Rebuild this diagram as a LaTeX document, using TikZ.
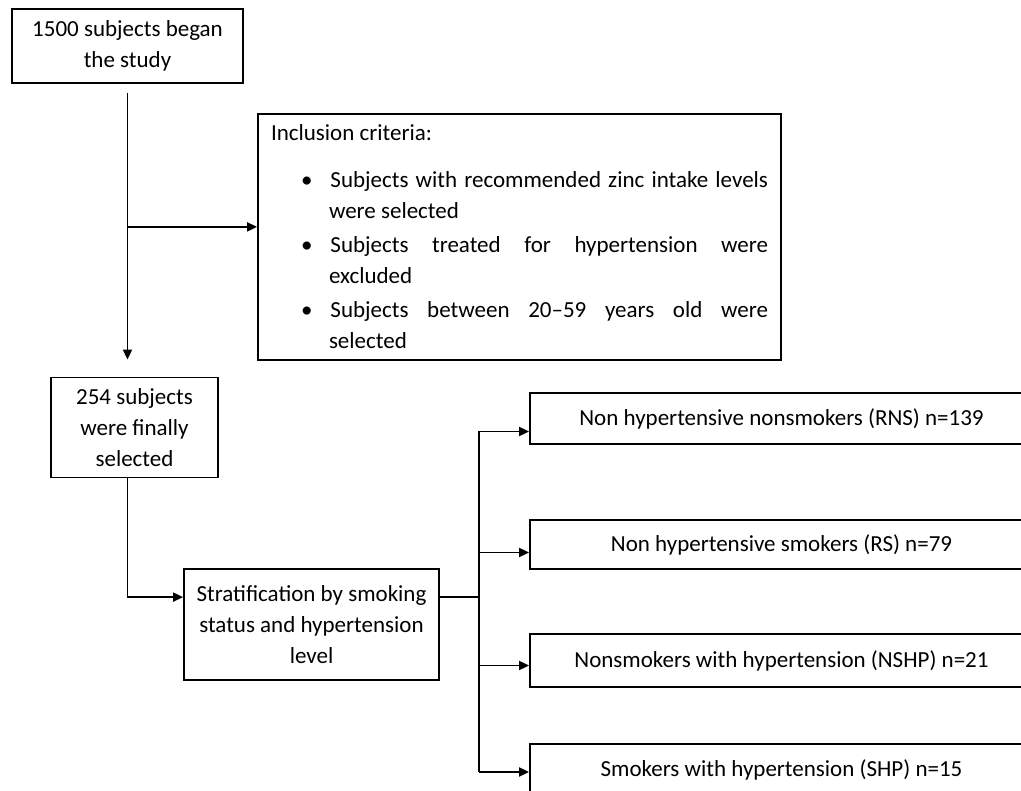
\documentclass[tikz,border=0pt]{standalone}
\usepackage{fontspec}
\setmainfont{Carlito}
\usetikzlibrary{arrows.meta,calc,positioning}

\tikzset{
  box/.style={draw, line width=1.8pt, align=center, inner sep=0pt,
    font=\fontsize{23}{31}\selectfont},
  link/.style={line width=1.8pt},
  arr/.style={link, -{Triangle[length=10pt,width=9pt]}},
}

\begin{document}
\begin{tikzpicture}[x=1pt,y=-1pt]
  \clip (0,0) rectangle (1021,791);

  % left column
  \node[box, minimum width=231pt, minimum height=74pt] (start) at (127.5,46)
    {1500 subjects began\\the study};
  \node[box, minimum width=167pt, minimum height=100pt] (sel) at (134.5,427.5)
    {254 subjects\\were finally\\selected};
  \node[box, minimum width=255pt, minimum height=111pt] (strat) at (311.5,624.5)
    {Stratification by smoking\\status and hypertension\\level};

  % criteria box
  \node[box, minimum width=523pt, minimum height=246pt, text width=497pt,
    align=justify] (criteria) at (519.5,237)
    {\hyphenpenalty=10000 Inclusion criteria:
     \begin{list}{\textbullet}{\leftmargin=58pt \labelwidth=10pt \labelsep=18pt
       \topsep=16pt \partopsep=0pt \parsep=0pt \itemsep=3pt}
     \item Subjects with recommended zinc intake levels\linebreak were selected
     \item Subjects treated for hypertension were\linebreak excluded
     \item Subjects between 20–59 years old were\linebreak selected
     \end{list}};

  % groups
  \node[box, minimum width=503pt, minimum height=51pt] (rns) at (781.5,418.5)
    {Non hypertensive nonsmokers (RNS) n=139};
  \node[box, minimum width=503pt, minimum height=49pt] (rs) at (781.5,544.5)
    {Non hypertensive smokers (RS) n=79};
  \node[box, minimum width=503pt, minimum height=53pt] (nshp) at (781.5,660.5)
    {Nonsmokers with hypertension (NSHP) n=21};
  \node[box, minimum width=503pt, minimum height=52pt] (shp) at (781.5,770)
    {Smokers with hypertension (SHP) n=15};

  % connectors
  \coordinate (split) at ($(start.south)+(0,143)$);
  \draw[arr] ($(start.south)+(0,9)$) -- ($(start.south |- sel.north)+(0,-17)$);
  \draw[arr] (split) -- (split -| criteria.west);
  \draw[arr] (start.south |- sel.south) |- ($(strat.north west)+(0,29)$);

  \coordinate (bus) at ($(strat.north east)+(39,29)$);
  \draw[link] ($(strat.north east)+(0,29)$) -- (bus);
  \draw[link] ($(bus |- rns.west)+(0,13)$) -- ($(bus |- shp.west)+(0,2)$);
  \foreach \n/\dy in {rns/13, rs/8, nshp/5, shp/2}
    \draw[arr] ($(bus |- \n.west)+(0,\dy)$) -- ($(\n.west)+(0,\dy)$);
\end{tikzpicture}
\end{document}
